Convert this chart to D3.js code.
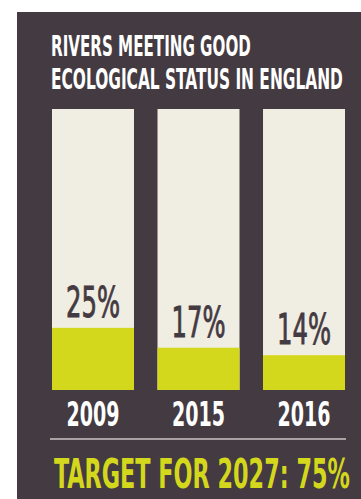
<!DOCTYPE html>
<html>
<head>
<meta charset="utf-8">
<script src="https://cdn.jsdelivr.net/npm/d3@7"></script>
<style>
  html, body { margin: 0; padding: 0; background: #fff; }
  svg { display: block; }
  text { font-family: "DejaVu Sans Condensed", "Liberation Sans Narrow", sans-serif; }
</style>
</head>
<body>
<svg id="chart"></svg>
<script>
const width = 361;
const height = 499;

// Chart data
const years = ["2009", "2015", "2016"];
const shares = [25, 17, 14];
const titleLines = ["RIVERS MEETING GOOD", "ECOLOGICAL STATUS IN ENGLAND"];
const targetLabel = "TARGET FOR 2027: 75%";

const colors = {
    panel: "#443a41",
    cream: "#f0ede3",
    lime: "#d4d81c",
    rule: "#c9c4c6",
    white: "#ffffff"
};

const svg = d3.select("#chart")
    .attr("width", width)
    .attr("height", height);

// squeeze a text horizontally so it fits a given width (the original uses a very condensed face)
function squeeze(sel, fitWidth, anchorX, baseY) {
    sel.each(function(d, i) {
        const t = d3.select(this);
        const w = this.getComputedTextLength();
        const fw = typeof fitWidth === "function" ? fitWidth(d, i) : fitWidth;
        const ax = typeof anchorX === "function" ? anchorX(d, i) : anchorX;
        const by = typeof baseY === "function" ? baseY(d, i) : baseY;
        t.attr("x", 0).attr("y", 0)
            .attr("transform", `translate(${ax},${by}) scale(${fw / w},1)`);
    });
}

// Dark panel
svg.append("rect")
    .attr("x", 17).attr("y", 12)
    .attr("width", width - 17).attr("height", height - 12)
    .attr("fill", colors.panel);

// Title
svg.append("g").selectAll("text")
    .data(titleLines)
    .join("text")
    .attr("fill", colors.white)
    .attr("font-size", 28)
    .attr("font-weight", "bold")
    .text(d => d)
    .call(squeeze, (d, i) => i === 0 ? 200 : 292, 51, (d, i) => 56 + i * 33);

// Scales
const x = d3.scaleBand()
    .domain(years)
    .range([52, 345])
    .paddingInner(0.223)
    .paddingOuter(0);

const y = d3.scaleLinear()
    .domain([0, 113])
    .range([390, 109]);

const bars = svg.append("g").selectAll("g")
    .data(years.map((yr, i) => ({ year: yr, value: shares[i] })))
    .join("g");

// Cream background column
bars.append("rect")
    .attr("x", d => x(d.year))
    .attr("y", y(113))
    .attr("width", x.bandwidth())
    .attr("height", y(0) - y(113))
    .attr("fill", colors.cream);

// Lime value bar
bars.append("rect")
    .attr("x", d => x(d.year))
    .attr("y", d => y(d.value))
    .attr("width", x.bandwidth())
    .attr("height", d => y(0) - y(d.value))
    .attr("fill", colors.lime);

// Percent labels
bars.append("text")
    .attr("text-anchor", "middle")
    .attr("fill", colors.panel)
    .attr("stroke", colors.panel)
    .attr("stroke-width", 0.9)
    .attr("font-size", 43)
    .text(d => d.value + "%")
    .call(squeeze, 54, d => x(d.year) + x.bandwidth() / 2, d => y(d.value) - 11);

// Year labels
bars.append("text")
    .attr("text-anchor", "middle")
    .attr("fill", colors.white)
    .attr("font-size", 33)
    .attr("font-weight", "bold")
    .text(d => d.year)
    .call(squeeze, 53, d => x(d.year) + x.bandwidth() / 2, 426);

// Divider
svg.append("line")
    .attr("x1", 50).attr("x2", 346)
    .attr("y1", 439).attr("y2", 439)
    .attr("stroke", colors.rule)
    .attr("stroke-width", 1.5);

// Target
svg.append("text")
    .attr("fill", colors.lime)
    .attr("font-size", 41)
    .attr("font-weight", "bold")
    .text(targetLabel)
    .call(squeeze, 296, 54, 488);
</script>
</body>
</html>
